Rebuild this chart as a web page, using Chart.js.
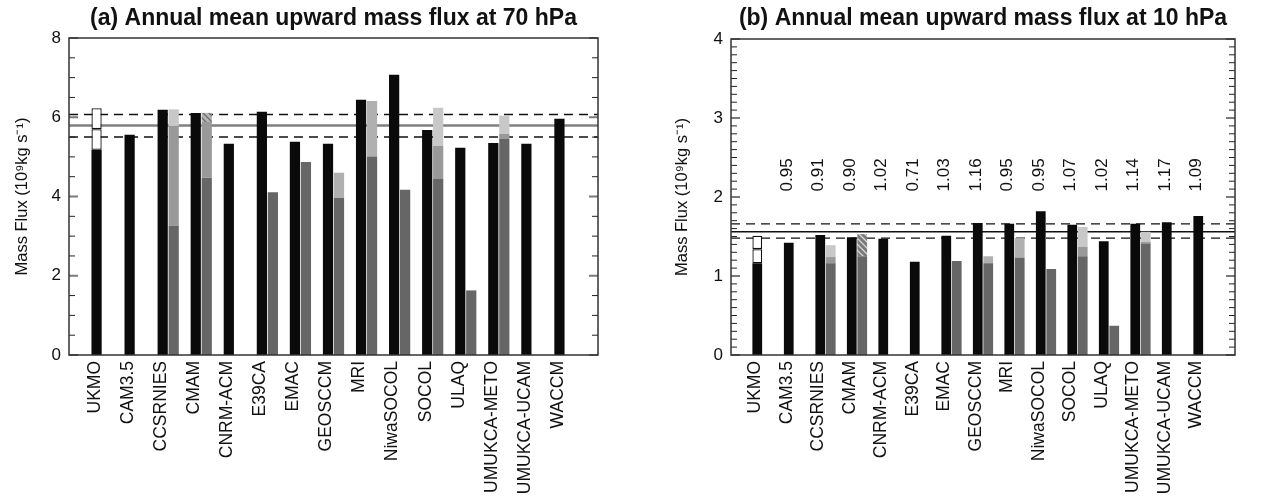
<!DOCTYPE html>
<html>
<head>
<meta charset="utf-8">
<title>Annual mean upward mass flux</title>
<script src="https://cdn.jsdelivr.net/npm/chart.js@4.4.0/dist/chart.umd.min.js"></script>
<style>
  html, body { margin: 0; padding: 0; background: #fff; }
  #wrap { position: relative; width: 1262px; height: 502px; }
  .panel { position: absolute; top: 0; width: 631px; height: 502px; }
  #panelA { left: 0; }
  #panelB { left: 631px; }
</style>
</head>
<body>
<div id="wrap">
  <div class="panel" id="panelA"><canvas id="chartA" width="631" height="502"></canvas></div>
  <div class="panel" id="panelB"><canvas id="chartB" width="631" height="502"></canvas></div>
</div>
<script>
// Models along the x axis
const models = ['UKMO', 'CAM3.5', 'CCSRNIES', 'CMAM', 'CNRM-ACM', 'E39CA', 'EMAC', 'GEOSCCM',
  'MRI', 'NiwaSOCOL', 'SOCOL', 'ULAQ', 'UMUKCA-METO', 'UMUKCA-UCAM', 'WACCM'];

// ---- 70 hPa ----
const black70 = [5.18, 5.56, 6.19, 6.11, 5.33, 6.14, 5.38, 5.33, 6.44, 7.07, 5.68, 5.23, 5.35, 5.33, 5.96];
const ukmoBox70 = [5.18, 5.70, 6.23];          // low, middle, high
// grey bars: top of each segment, stacked in this order
const dark70  = [null, null, 3.26, 4.47, null, 4.11, 4.87, 3.96, 5.01, 4.17, 4.44, 1.63, 5.45, null, null];
const mid70   = [null, null, 5.78, 5.88, null, null, null, null, null, null, 5.28, null, 5.58, null, null];
const hatch70 = [null, null, null, 6.11, null, null, null, null, null, null, null, null, null, null, null];
const pale70  = [null, null, null, null, null, null, null, 4.60, 6.41, null, null, null, null, null, null];
const light70 = [null, null, 6.20, null, null, null, null, null, null, null, 6.24, null, 6.04, null, null];
const mean70 = 5.79;
const range70 = [5.50, 6.07];
const yTicks70 = [0, 2, 4, 6, 8];

// ---- 10 hPa ----
const black10 = [1.16, 1.42, 1.52, 1.49, 1.47, 1.18, 1.51, 1.67, 1.66, 1.82, 1.65, 1.44, 1.66, 1.68, 1.76];
const ukmoBox10 = [1.16, 1.34, 1.51];
const dark10  = [null, null, 1.16, 1.25, null, null, 1.19, 1.16, 1.23, 1.09, 1.25, 0.37, 1.41, null, null];
const mid10   = [null, null, 1.24, null, null, null, null, null, null, null, 1.37, null, 1.43, null, null];
const hatch10 = [null, null, null, 1.53, null, null, null, null, null, null, null, null, null, null, null];
const pale10  = [null, null, null, null, null, null, null, 1.25, 1.48, null, null, null, null, null, null];
const light10 = [null, null, 1.39, null, null, null, null, null, null, null, 1.62, null, 1.56, null, null];
const ratio10 = [null, 0.95, 0.91, 0.90, 1.02, 0.71, 1.03, 1.16, 0.95, 0.95, 1.07, 1.02, 1.14, 1.17, 1.09];
const mean10 = 1.56;
const range10 = [1.48, 1.66];
const yTicks10 = [0, 1, 2, 3, 4];

Chart.defaults.font.family = '"Liberation Sans", Arial, Helvetica, sans-serif';
Chart.defaults.color = '#111';

// blank slot at each end so the models sit at 1..15 on a 0..16 axis
const labels = ['', ...models, ''];
const pad = arr => [null, ...arr, null];

// turn segment tops into floating [bottom, top] bars
function segments(layers) {
  const out = layers.map(() => []);
  models.forEach((m, i) => {
    let base = 0;
    layers.forEach((tops, k) => {
      const t = tops[i];
      if (t == null) { out[k].push(null); return; }
      out[k].push([base, t]);
      base = t;
    });
  });
  return out.map(pad);
}

function hatch(bg, fg) {
  const c = document.createElement('canvas');
  c.width = 6; c.height = 6;
  const g = c.getContext('2d');
  g.fillStyle = bg;
  g.fillRect(0, 0, 6, 6);
  g.strokeStyle = fg;
  g.lineWidth = 1.3;
  g.beginPath();
  g.moveTo(-3, 3); g.lineTo(3, 9);
  g.moveTo(0, 0); g.lineTo(6, 6);
  g.moveTo(3, -3); g.lineTo(9, 3);
  g.stroke();
  return g.createPattern(c, 'repeat');
}

function buildDatasets(black, box, layers, hatchFill) {
  const [dark, mid, hat, pale, light] = segments(layers);
  const boxLow = models.map((m, i) => i === 0 ? [box[0], box[1]] : null);
  const boxHigh = models.map((m, i) => i === 0 ? [box[1], box[2]] : null);
  const grey = (data, color) => ({ data, backgroundColor: color, stack: 'model' });
  return [
    { data: pad(black.map(v => [0, v])), backgroundColor: '#0a0a0a', stack: 'obs' },
    { data: pad(boxLow), backgroundColor: '#fff', borderColor: '#111', borderWidth: 1.3, stack: 'obs' },
    { data: pad(boxHigh), backgroundColor: '#fff', borderColor: '#111', borderWidth: 1.3, stack: 'obs' },
    grey(dark, '#666666'),
    grey(mid, '#999999'),
    grey(hat, hatchFill),
    grey(pale, '#b0b0b0'),
    grey(light, '#c8c8c8')
  ];
}

// reference lines under the bars, frame, inward ticks and ratio labels on top
const panelDecor = {
  id: 'panelDecor',
  beforeDatasetsDraw(chart, args, opts) {
    const { ctx, chartArea: a, scales: { y } } = chart;
    ctx.save();
    ctx.strokeStyle = '#111';
    ctx.lineWidth = 1.4;
    ctx.setLineDash([9, 6]);
    opts.range.forEach(v => {
      const py = y.getPixelForValue(v);
      ctx.beginPath(); ctx.moveTo(a.left, py); ctx.lineTo(a.right, py); ctx.stroke();
    });
    ctx.setLineDash([]);
    ctx.strokeStyle = opts.meanColor;
    ctx.lineWidth = opts.meanWidth;
    const pm = y.getPixelForValue(opts.mean);
    ctx.beginPath(); ctx.moveTo(a.left, pm); ctx.lineTo(a.right, pm); ctx.stroke();
    ctx.restore();
  },
  afterDatasetsDraw(chart, args, opts) {
    const { ctx, chartArea: a, scales: { x, y } } = chart;
    ctx.save();
    y.ticks.forEach(t => {
      const py = y.getPixelForValue(t.value);
      const major = opts.major.some(m => Math.abs(m - t.value) < 1e-6);
      ctx.strokeStyle = major ? '#7a7a7a' : '#222';
      ctx.lineWidth = major ? 2 : 1;
      const len = major ? 9 : 6;
      ctx.beginPath();
      ctx.moveTo(a.left, py); ctx.lineTo(a.left + len, py);
      ctx.moveTo(a.right - len, py); ctx.lineTo(a.right, py);
      ctx.stroke();
    });
    ctx.strokeStyle = '#333';
    ctx.lineWidth = 1.5;
    ctx.strokeRect(a.left, a.top, a.right - a.left, a.bottom - a.top);
    if (opts.notes) {
      ctx.fillStyle = '#111';
      ctx.font = '17px "Liberation Sans", Arial, sans-serif';
      ctx.textAlign = 'left';
      ctx.textBaseline = 'middle';
      const py = y.getPixelForValue(opts.notesAt);
      opts.notes.forEach((r, i) => {
        if (r == null) return;
        ctx.save();
        ctx.translate(x.getPixelForValue(i + 1) - 7, py);
        ctx.rotate(-Math.PI / 2);
        ctx.fillText(r.toFixed(2), 0, 0);
        ctx.restore();
      });
    }
    ctx.restore();
  }
};

function makeChart(id, cfg) {
  return new Chart(document.getElementById(id), {
    type: 'bar',
    data: { labels, datasets: cfg.datasets },
    options: {
      responsive: false,
      animation: false,
      devicePixelRatio: 1,
      layout: { padding: { left: 0, right: cfg.padRight, top: 0, bottom: 0 } },
      datasets: { bar: { categoryPercentage: 0.665, barPercentage: 0.93, borderSkipped: false } },
      scales: {
        x: {
          offset: false,
          grid: { display: false, drawTicks: false },
          border: { display: false },
          ticks: { autoSkip: false, minRotation: 90, maxRotation: 90, padding: 6, labelOffset: -7, font: { size: 17.5 } },
          afterFit: s => { s.height = 147; }
        },
        y: {
          min: 0, max: cfg.max, stacked: false,
          grid: { display: false, drawTicks: false },
          border: { display: false },
          ticks: {
            stepSize: cfg.step, autoSkip: false, maxTicksLimit: 100, padding: 8, font: { size: 17 },
            callback: v => cfg.major.some(m => Math.abs(m - v) < 1e-6) ? String(Math.round(v)) : ''
          },
          title: { display: true, text: 'Mass Flux (10⁹kg s⁻¹)', font: { size: 16.5 }, padding: { top: cfg.titlePad, bottom: 0 } },
          afterFit: s => { s.width = cfg.axisWidth; }
        }
      },
      plugins: {
        legend: { display: false },
        tooltip: { enabled: false },
        title: {
          display: true, fullSize: false, text: cfg.title, color: '#111',
          font: { size: 23, weight: 'bold' },
          padding: { top: 5, bottom: cfg.titleGap }
        },
        panelDecor: {
          mean: cfg.mean, meanColor: cfg.meanColor, meanWidth: cfg.meanWidth,
          range: cfg.range, major: cfg.major, notes: cfg.notes, notesAt: 2.07
        }
      }
    },
    plugins: [panelDecor]
  });
}

makeChart('chartA', {
  title: '(a) Annual mean upward mass flux at 70 hPa',
  datasets: buildDatasets(black70, ukmoBox70, [dark70, mid70, hatch70, pale70, light70], hatch('#b5b5b5', '#6e6e6e')),
  max: 8, step: 0.5, major: yTicks70,
  mean: mean70, meanColor: '#808080', meanWidth: 2.5, range: range70,
  axisWidth: 69, titlePad: 13, padRight: 33, titleGap: 5.4
});

makeChart('chartB', {
  title: '(b) Annual mean upward mass flux at 10 hPa',
  datasets: buildDatasets(black10, ukmoBox10, [dark10, mid10, hatch10, pale10, light10], hatch('#7a7a7a', '#d6d6d6')),
  max: 4, step: 0.1, major: yTicks10,
  mean: mean10, meanColor: '#111', meanWidth: 1.6, range: range10, notes: ratio10,
  axisWidth: 100, titlePad: 42, padRight: 12, titleGap: 6.4
});
</script>
</body>
</html>
